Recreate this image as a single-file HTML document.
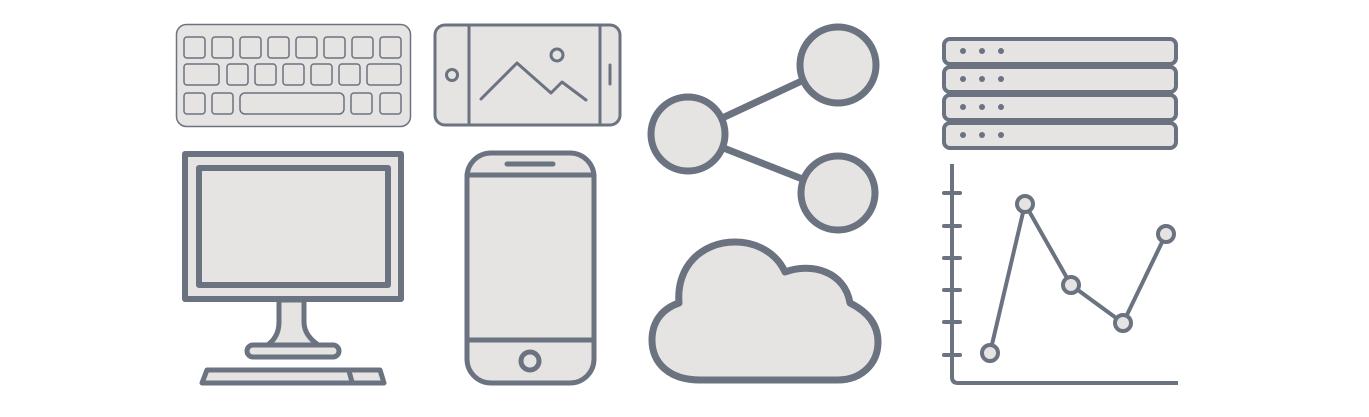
<!DOCTYPE html>
<html><head><meta charset="utf-8"><style>
html,body{margin:0;padding:0;background:#fff;width:1369px;height:417px;overflow:hidden}
</style></head><body>
<svg width="1369" height="417" viewBox="0 0 1369 417" xmlns="http://www.w3.org/2000/svg">
<g fill="#e6e4e3" stroke="#6b7280" stroke-linejoin="round" stroke-linecap="round">
<!-- keyboard -->
<rect x="176.5" y="24.5" width="234" height="102" rx="10" stroke-width="1.5"/>
<g stroke-width="1.5">
<rect x="184" y="37" width="21" height="21" rx="3"/><rect x="212" y="37" width="21" height="21" rx="3"/><rect x="240" y="37" width="21" height="21" rx="3"/><rect x="268" y="37" width="21" height="21" rx="3"/><rect x="296" y="37" width="21" height="21" rx="3"/><rect x="324" y="37" width="21" height="21" rx="3"/><rect x="352" y="37" width="21" height="21" rx="3"/><rect x="380" y="37" width="21" height="21" rx="3"/>
<rect x="184" y="64" width="35" height="21" rx="3"/><rect x="227" y="64" width="21" height="21" rx="3"/><rect x="255" y="64" width="21" height="21" rx="3"/><rect x="283" y="64" width="21" height="21" rx="3"/><rect x="311" y="64" width="21" height="21" rx="3"/><rect x="339" y="64" width="21" height="21" rx="3"/><rect x="367" y="64" width="34" height="21" rx="3"/>
<rect x="184" y="93" width="21" height="21" rx="3"/><rect x="212" y="93" width="21" height="21" rx="3"/><rect x="240" y="93" width="104" height="21" rx="5"/><rect x="351" y="93" width="21" height="21" rx="3"/><rect x="380" y="93" width="21" height="21" rx="3"/>
</g>
<!-- landscape phone -->
<rect x="435" y="25" width="185" height="100" rx="10" stroke-width="3"/>
<g stroke-width="3" fill="none">
<line x1="469" y1="25" x2="469" y2="125"/><line x1="600" y1="25" x2="600" y2="125"/>
<line x1="610" y1="65" x2="610" y2="84"/>
<polyline points="481,99 517,63 551,93 562,82 586,100"/>
</g>
<circle cx="452" cy="75" r="5.5" stroke-width="3"/>
<circle cx="557" cy="55" r="6" stroke-width="3"/>
<!-- monitor -->
<path d="M279,300 L279,322 C279,333 274,341 266,346 L320,346 C312,341 304,333 304,322 L304,300 Z" stroke-width="5"/>
<rect x="185" y="154" width="216" height="145" stroke-width="6"/>
<rect x="199" y="168" width="189" height="117" stroke-width="6"/>
<rect x="247" y="345" width="92" height="12" rx="6" stroke-width="5"/>
<path d="M207,370 L380,370 L384,383 L202,383 Z" stroke-width="5"/>
<line x1="349" y1="371" x2="352" y2="382" stroke-width="5"/>
<!-- portrait phone -->
<rect x="467" y="153" width="127" height="230" rx="24" stroke-width="5"/>
<g stroke-width="5" fill="none">
<line x1="467" y1="175" x2="594" y2="175"/><line x1="467" y1="340" x2="594" y2="340"/>
<line x1="507" y1="164" x2="553" y2="164"/>
</g>
<circle cx="530" cy="361" r="9" stroke-width="5"/>
<!-- share -->
<g stroke-width="7">
<line x1="688" y1="134" x2="838" y2="64"/><line x1="688" y1="134" x2="838" y2="193"/>
<circle cx="688" cy="134" r="37"/>
<circle cx="838" cy="65" r="38"/>
<circle cx="838" cy="193" r="37"/>
<!-- cloud -->
<path d="M700,380 C668,380 652,362 652,340 C652,320 664,308 679,303 C676,266 702,242 735,242 C760,242 778,256 785,272 C812,262 845,272 850,303 C868,312 878,325 878,342 C878,365 860,380 838,380 Z"/>
</g>
<!-- server -->
<g stroke-width="4">
<rect x="944" y="39" width="232" height="25" rx="6"/>
<rect x="944" y="67" width="232" height="25" rx="6"/>
<rect x="944" y="95" width="232" height="25" rx="6"/>
<rect x="944" y="123" width="232" height="25" rx="6"/>
</g>
<g fill="#6b7280" stroke="none">
<circle cx="963" cy="51" r="3"/><circle cx="982" cy="51" r="3"/><circle cx="1001" cy="51" r="3"/>
<circle cx="963" cy="79" r="3"/><circle cx="982" cy="79" r="3"/><circle cx="1001" cy="79" r="3"/>
<circle cx="963" cy="107" r="3"/><circle cx="982" cy="107" r="3"/><circle cx="1001" cy="107" r="3"/>
<circle cx="963" cy="135" r="3"/><circle cx="982" cy="135" r="3"/><circle cx="1001" cy="135" r="3"/>
</g>
<!-- chart -->
<g stroke-width="4" fill="none">
<path d="M952,164 L952,377 Q952,383 958,383 L1178,383" stroke-linecap="butt"/>
<line x1="944" y1="193" x2="960" y2="193"/><line x1="944" y1="226" x2="960" y2="226"/><line x1="944" y1="258" x2="960" y2="258"/><line x1="944" y1="290" x2="960" y2="290"/><line x1="944" y1="322" x2="960" y2="322"/><line x1="944" y1="355" x2="960" y2="355"/>
<polyline points="990,353 1025,204 1071,285 1123,323 1166,234"/>
</g>
<g stroke-width="4">
<circle cx="990" cy="353" r="8"/><circle cx="1025" cy="204" r="8"/><circle cx="1071" cy="285" r="8"/><circle cx="1123" cy="323" r="8"/><circle cx="1166" cy="234" r="8"/>
</g>
</g>
</svg>
</body></html>
